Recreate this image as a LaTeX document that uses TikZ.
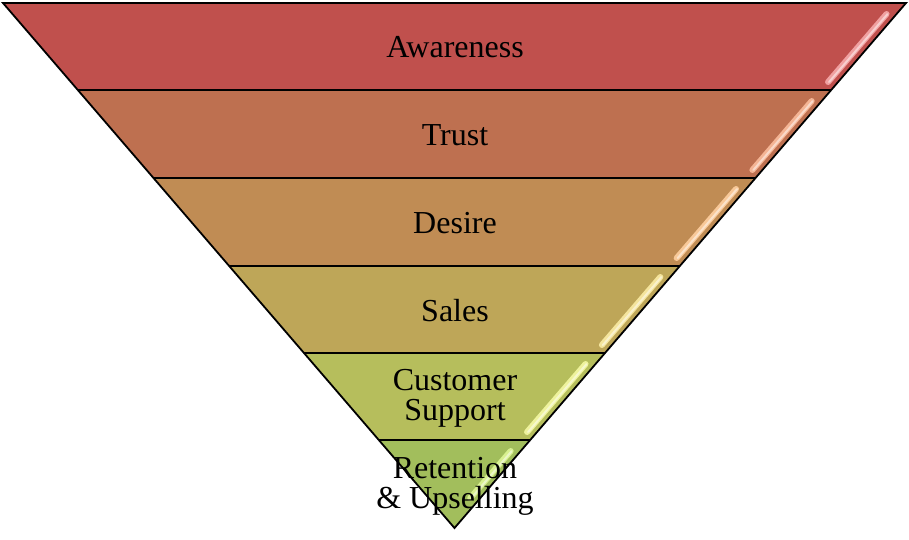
\documentclass[tikz,border=0pt]{standalone}
\usepackage{fontspec}
\setmainfont{Liberation Serif}
\definecolor{cA}{HTML}{C0504D}
\definecolor{cB}{HTML}{BE7050}
\definecolor{cC}{HTML}{C08C54}
\definecolor{cD}{HTML}{BEA658}
\definecolor{cE}{HTML}{B6BE5C}
\definecolor{cF}{HTML}{A2BE5C}
\definecolor{gA}{HTML}{F0A0A0}
\definecolor{gB}{HTML}{F4B494}
\definecolor{gC}{HTML}{F8C898}
\definecolor{gD}{HTML}{F4E49C}
\definecolor{gE}{HTML}{EEF29C}
\definecolor{gF}{HTML}{D8F090}
\tikzset{
  band/.style={fill=#1},
  edge/.style={draw=black, line width=1.8pt, line join=miter},
  lbl/.style={font=\fontsize{32}{30}\selectfont, text=black, align=center, inner sep=0pt},
  glint/.style={draw=#1, line width=6pt, line cap=round},
  glintcore/.style={draw=white, line width=2pt, line cap=round, opacity=0.5}
}
\newcommand{\xr}[1]{454.5+0.86*(528-#1)}
\newcommand{\xl}[1]{454.5-0.86*(528-#1)}
\newcommand{\bandfill}[3]{%
  \fill[band=#3] ({\xl{#1}},#1) -- ({\xr{#1}},#1) -- ({\xr{#2}},#2) -- ({\xl{#2}},#2) -- cycle;}
\newcommand{\glintline}[3]{%
  \draw[glint=#3] ({\xr{#1}-10},#1) -- ({\xr{#2}-10},#2);
  \draw[glintcore] ({\xr{#1}-9},#1) -- ({\xr{#2}-9},#2);}
\begin{document}
\begin{tikzpicture}[x=1pt,y=-1pt]
\useasboundingbox (0,0) rectangle (909,539);
% bands
\bandfill{3}{90}{cA}
\bandfill{90}{178}{cB}
\bandfill{178}{266}{cC}
\bandfill{266}{353}{cD}
\bandfill{353}{440}{cE}
\fill[band=cF] ({\xl{440}},440) -- ({\xr{440}},440) -- (454.5,528) -- cycle;
% glints
\glintline{14}{82}{gA}
\glintline{101}{170}{gB}
\glintline{189}{258}{gC}
\glintline{277}{345}{gD}
\glintline{364}{432}{gE}
\glintline{451}{498}{gF}
% outline
\coordinate (tl) at (3,3);
\coordinate (tr) at (906,3);
\coordinate (apex) at (454.5,528);
\draw[edge] (tl) -- (tr) -- (apex) -- cycle;
\foreach \y in {90,178,266,353,440}
  \draw[edge] ({\xl{\y}},\y) -- ({\xr{\y}},\y);
% labels
\node[lbl] (aw) at (455,47) {Awareness};
\node[lbl] (tr1) at (455,135) {Trust};
\node[lbl] (de) at (455,223) {Desire};
\node[lbl] (sa) at (455,311) {Sales};
\node[lbl] (cs) at (455,398) {Customer\\Support};
\node[lbl] (re) at (455,486) {Retention\\\& Upselling};
\end{tikzpicture}
\end{document}
